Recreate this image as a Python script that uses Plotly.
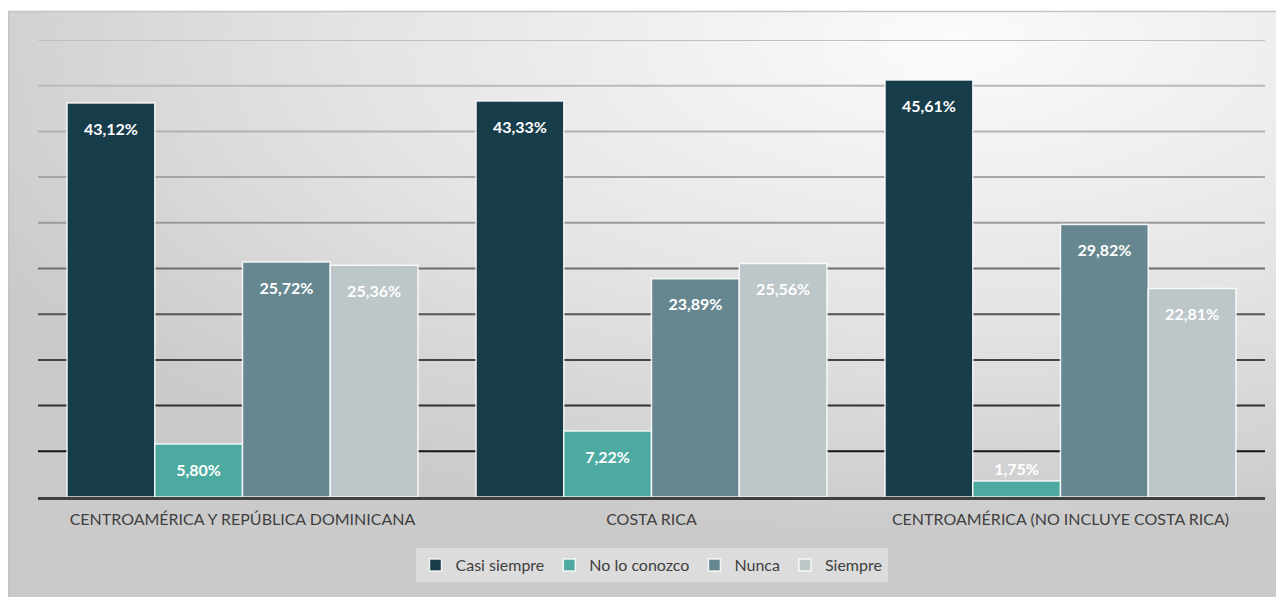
import plotly.graph_objects as go

categories = ["CENTROAMÉRICA Y REPÚBLICA DOMINICANA", "COSTA RICA", "CENTROAMÉRICA (NO INCLUYE COSTA RICA)"]
series_names = ["Casi siempre", "No lo conozco", "Nunca", "Siempre"]
casi_siempre = [43.12, 43.33, 45.61]
no_lo_conozco = [5.80, 7.22, 1.75]
nunca = [25.72, 23.89, 29.82]
siempre = [25.36, 25.56, 22.81]
series_values = [casi_siempre, no_lo_conozco, nunca, siempre]
colors = ["#173d4b", "#4daaa0", "#66878f", "#bdc6c9"]
grid_values = [5, 10, 15, 20, 25, 30, 35, 40, 45, 50]
grid_colors = ["#151515", "#303030", "#444444", "#555555", "#6e6e6e", "#9a9a9a", "#a6a6a6", "#b2b2b2", "#bababa", "#c0c0c0"]


def label(v):
    s = f"{v:.2f}".replace(".", ",") + "%"
    if v >= 4:
        return "<span style='font-size:8px'>\u00a0</span><br>" + s
    return s


fig = go.Figure()
for name, vals, col in zip(series_names, series_values, colors):
    fig.add_trace(go.Bar(
        name=name, x=categories, y=vals,
        marker=dict(color=col, line=dict(color="rgba(255,255,255,0.85)", width=1.5)),
        text=[label(v) for v in vals],
        textposition="auto", insidetextanchor="end",
        textfont=dict(family="Lato", size=16, color="white", weight="bold"),
        insidetextfont=dict(family="Lato", size=16, color="white", weight="bold"),
        outsidetextfont=dict(family="Lato", size=16, color="white", weight="bold"),
        cliponaxis=False,
        hoverinfo="skip",
    ))

bg_svg = (
    "data:image/svg+xml;utf8,"
    "<svg xmlns='http://www.w3.org/2000/svg' width='1276' height='586' viewBox='0 0 1276 586' preserveAspectRatio='none'>"
    "<defs><radialGradient id='g' cx='0.74' cy='0.05' r='0.85' gradientUnits='objectBoundingBox'>"
    "<stop offset='0' stop-color='%23fbfbfb'/><stop offset='0.55' stop-color='%23e4e4e4'/>"
    "<stop offset='1' stop-color='%23cacaca'/></radialGradient></defs>"
    "<rect width='1276' height='586' fill='url(%23g)'/></svg>"
)

# plot area spans page x 38..1265, y 40..497 (figure placed at page offset 8,8)
x0, x1 = (8 - 38) / 1227, (1284 - 38) / 1227
y0, y1 = (497 - 600) / 457, (497 - 11) / 457

fig.add_layout_image(dict(source=bg_svg, xref="paper", yref="paper", x=x0, y=y1,
                          sizex=x1 - x0, sizey=y1 - y0, sizing="stretch",
                          xanchor="left", yanchor="top", layer="below"))

shapes = [dict(type="rect", xref="paper", yref="paper", x0=x0 + 0.0006, x1=x1 + 0.01, y0=y0 - 0.01, y1=y1 - 0.001,
               line=dict(color="#c4c4c4", width=1.5), fillcolor="rgba(0,0,0,0)", layer="below")]
for gv, gc in zip(grid_values, grid_colors):
    shapes.append(dict(type="line", xref="paper", yref="y", x0=0, x1=1, y0=gv, y1=gv,
                       line=dict(color=gc, width=2), layer="below"))
fig.update_layout(shapes=shapes)

fig.update_layout(
    width=1276, height=589,
    margin=dict(l=30, r=19, t=32, b=100),
    paper_bgcolor="white", plot_bgcolor="rgba(0,0,0,0)",
    barmode="group", bargap=0.142, bargroupgap=0,
    font=dict(family="Lato", size=14, color="#404040"),
    uniformtext=dict(minsize=16, mode="show"),
    xaxis=dict(showgrid=False, showline=True, linecolor="#404040", linewidth=3,
               tickfont=dict(family="Lato", size=16, color="#404040"), ticks="", ticklabelstandoff=6),
    yaxis=dict(range=[0, 50], showgrid=False, showticklabels=False, zeroline=False, fixedrange=True),
    legend=dict(orientation="h", x=0.5, xanchor="center", y=-0.112, yanchor="top",
                bgcolor="rgba(255,255,255,0.35)", font=dict(family="Lato", size=16, color="#404040"),
                itemwidth=30, tracegroupgap=0),
    showlegend=True,
)

fig.write_html("out.html")
